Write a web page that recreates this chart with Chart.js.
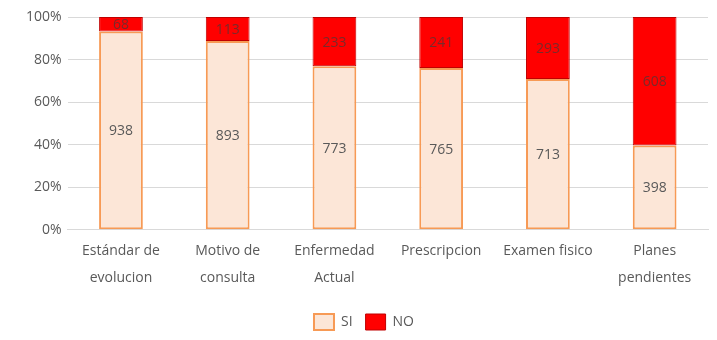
<!DOCTYPE html>
<html>
<head>
<meta charset="utf-8">
<script src="https://cdn.jsdelivr.net/npm/chart.js@4"></script>
<style>
  html, body { margin: 0; padding: 0; background: #fff; }
  #wrap { width: 717px; height: 340px; }
</style>
</head>
<body>
<div id="wrap"><canvas id="chart" width="717" height="340"></canvas></div>
<script>
const categories = [
  ['Estándar de', 'evolucion'],
  ['Motivo de', 'consulta'],
  ['Enfermedad', 'Actual'],
  ['Prescripcion'],
  ['Examen fisico'],
  ['Planes', 'pendientes']
];
const siValues = [938, 893, 773, 765, 713, 398];
const noValues = [68, 113, 233, 241, 293, 608];
const yTicks = [0, 20, 40, 60, 80, 100];

// porcentaje de cada barra (100% apilado)
const totals = siValues.map((v, i) => v + noValues[i]);
const siPct = siValues.map((v, i) => v / totals[i] * 100);
const noPct = noValues.map((v, i) => v / totals[i] * 100);

const fontFamily = "'Open Sans', sans-serif";

// etiquetas de valor dentro de cada segmento
const valueLabels = {
  id: 'valueLabels',
  afterDatasetsDraw(chart) {
    const ctx = chart.ctx;
    ctx.save();
    ctx.font = '14px ' + fontFamily;
    ctx.textAlign = 'center';
    ctx.textBaseline = 'middle';
    chart.data.datasets.forEach((ds, di) => {
      const meta = chart.getDatasetMeta(di);
      meta.data.forEach((bar, i) => {
        const raw = ds.rawValues[i];
        const y = (bar.y + bar.base) / 2;
        ctx.fillStyle = di === 0 ? '#595959' : '#7a2a2a';
        ctx.fillText(raw, bar.x, y + 1);
      });
    });
    ctx.restore();
  }
};

new Chart(document.getElementById('chart'), {
  type: 'bar',
  data: {
    labels: categories,
    datasets: [
      {
        label: 'SI',
        data: siPct,
        rawValues: siValues,
        backgroundColor: '#fce6d7',
        borderColor: '#f79a55',
        borderWidth: 2,
        borderSkipped: false,
        categoryPercentage: 1,
        barPercentage: 0.41
      },
      {
        label: 'NO',
        data: noPct,
        rawValues: noValues,
        backgroundColor: '#ff0000',
        borderColor: '#c00000',
        borderWidth: 1,
        borderSkipped: false,
        categoryPercentage: 1,
        barPercentage: 0.41
      }
    ]
  },
  options: {
    responsive: false,
    animation: false,
    layout: { padding: { left: 20, right: 9, top: 17, bottom: 0 } },
    plugins: {
      tooltip: { enabled: false },
      legend: {
        position: 'bottom',
        labels: {
          boxWidth: 20,
          boxHeight: 16,
          padding: 13,
          color: '#595959',
          font: { family: fontFamily, size: 14 }
        }
      }
    },
    scales: {
      x: {
        stacked: true,
        grid: { display: false },
        border: { color: '#d9d9d9', width: 1 },
        afterFit(axis) {
          axis.height += 10;
        },
        ticks: {
          color: '#595959',
          font: { family: fontFamily, size: 14, lineHeight: 1.9 },
          maxRotation: 0,
          autoSkip: false,
          padding: 0
        }
      },
      y: {
        stacked: true,
        min: 0,
        max: 100,
        afterBuildTicks(axis) {
          axis.ticks = yTicks.map(v => ({ value: v }));
        },
        grid: { color: '#d9d9d9', drawTicks: false },
        border: { display: false },
        ticks: {
          color: '#595959',
          font: { family: fontFamily, size: 14 },
          padding: 6,
          callback: v => v + '%'
        }
      }
    }
  },
  plugins: [valueLabels]
});
</script>
</body>
</html>
